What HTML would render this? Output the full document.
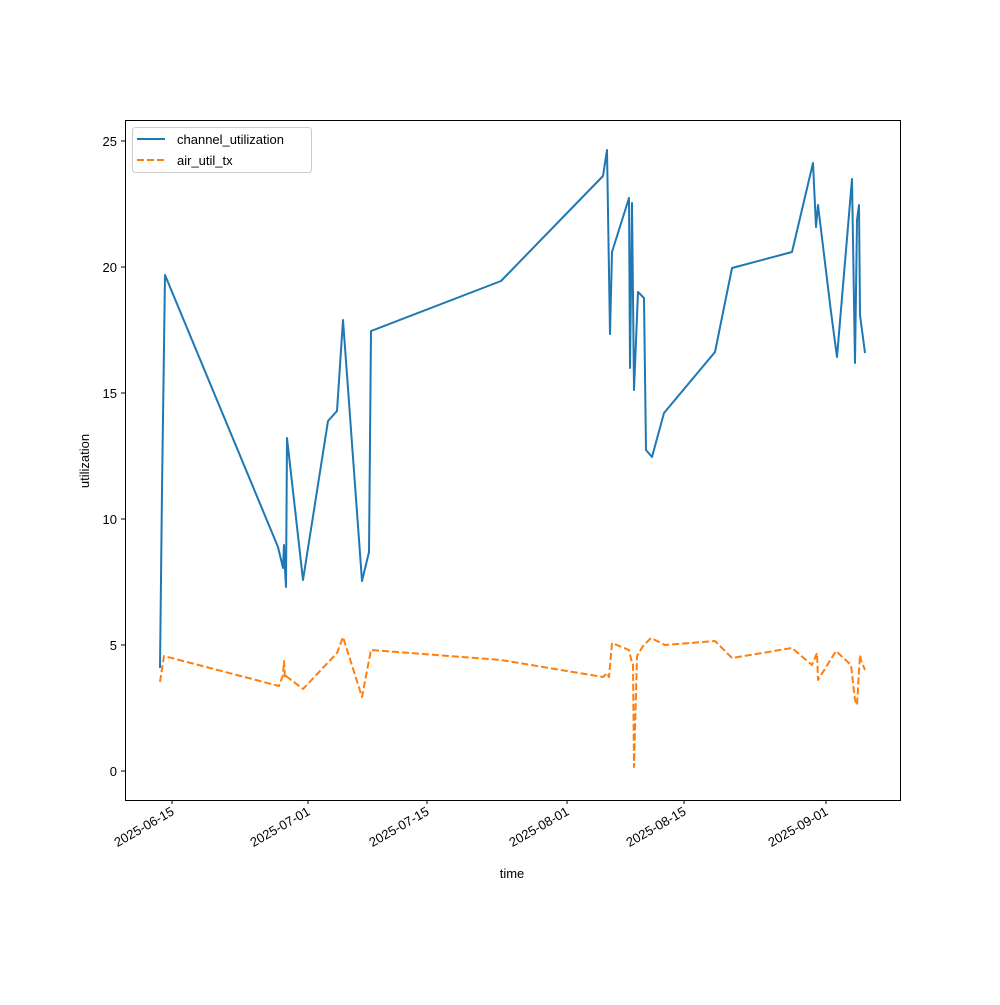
<!DOCTYPE html><html><head><style>body{margin:0;background:#fff}svg{font-family:"Liberation Sans","DejaVu Sans",sans-serif}</style></head><body>
<svg width="1000" height="1000" viewBox="0 0 1000 1000" xmlns="http://www.w3.org/2000/svg">
<rect width="1000" height="1000" fill="#fff"/>
<polyline fill="none" stroke="#1f77b4" stroke-width="2" stroke-linejoin="round" points="160,668 162,490 165,275 278,547 283,568 284,545 285,570 286,587 287,438 303,580 328,421 337,411 343,320 362,581 369,552 371,331 501,281 603,176 607,150 610,334 612,252 629,198 630,368 632,203 634,390 638,292 644,298 646,450 652,457 664,413 715,352 732,268 792,252 813,163 816,227 818,205 831,312 837,357 852,179 855,363 857,220 859,205 860,315 865,353"/>
<polyline fill="none" stroke="#ff7f0e" stroke-width="2" stroke-dasharray="7,3" stroke-linejoin="round" points="160,682 164,656 279,686 283,675 284,661 285,678 286,676 303,689 337,653 343,637 362,697 371,650 501,660 603,677 607,673 609,677 612,643 629,650 632,663 633,664 634,767 637,656 643,646 651,638 665,645 715,641 732,658 792,648 812,665 817,653 818,680 836,651 851,665 855,700 857,705 860,655 861,660 865,670"/>
<rect x="125.5" y="120.5" width="775" height="680" fill="none" stroke="#000" stroke-width="1"/>
<g stroke="#000" stroke-width="1">
<line x1="125" x2="121" y1="771" y2="771"/><line x1="125" x2="121" y1="645" y2="645"/><line x1="125" x2="121" y1="519" y2="519"/><line x1="125" x2="121" y1="393" y2="393"/><line x1="125" x2="121" y1="267" y2="267"/><line x1="125" x2="121" y1="141" y2="141"/>
<line x1="172" x2="172" y1="800" y2="804"/><line x1="308" x2="308" y1="800" y2="804"/><line x1="427" x2="427" y1="800" y2="804"/><line x1="567" x2="567" y1="800" y2="804"/><line x1="684" x2="684" y1="800" y2="804"/><line x1="826" x2="826" y1="800" y2="804"/>
</g>
<g font-size="13" text-anchor="end" fill="#000">
<text x="117" y="776">0</text><text x="117" y="650">5</text><text x="117" y="524">10</text><text x="117" y="398">15</text><text x="117" y="272">20</text><text x="117" y="146">25</text>
<text transform="translate(175,814) rotate(-30)">2025-06-15</text>
<text transform="translate(311,814) rotate(-30)">2025-07-01</text>
<text transform="translate(430,814) rotate(-30)">2025-07-15</text>
<text transform="translate(570,814) rotate(-30)">2025-08-01</text>
<text transform="translate(687,814) rotate(-30)">2025-08-15</text>
<text transform="translate(829,814) rotate(-30)">2025-09-01</text>
</g>
<text x="512" y="878" font-size="13" text-anchor="middle">time</text>
<text transform="translate(89,461) rotate(-90)" font-size="13" text-anchor="middle">utilization</text>
<rect x="132.5" y="127.5" width="179" height="45" rx="3" fill="#fff" stroke="#ccc"/>
<line x1="137" x2="165" y1="139" y2="139" stroke="#1f77b4" stroke-width="2"/>
<line x1="137" x2="165" y1="160" y2="160" stroke="#ff7f0e" stroke-width="2" stroke-dasharray="7,3"/>
<text x="177" y="144" font-size="13">channel_utilization</text>
<text x="177" y="165" font-size="13">air_util_tx</text>
</svg>
</body></html>
